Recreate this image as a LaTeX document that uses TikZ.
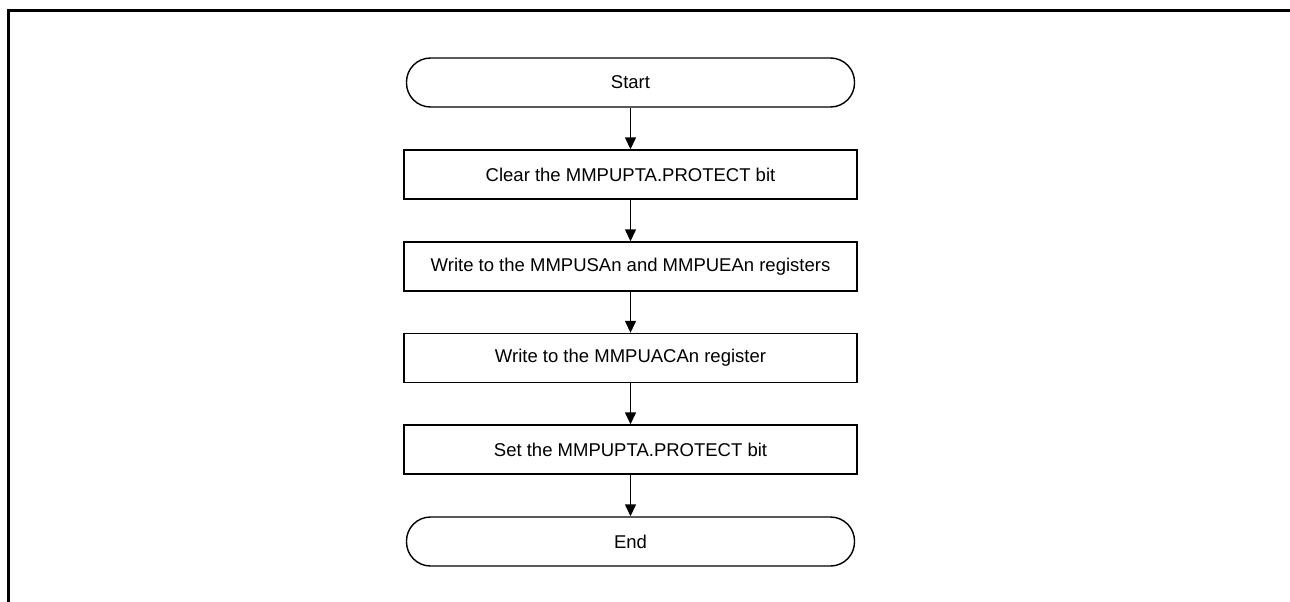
\documentclass[tikz,border=0pt]{standalone}
\usepackage{fontspec}
\setmainfont{Liberation Sans}
\usetikzlibrary{arrows.meta}
\begin{document}
\begin{tikzpicture}[x=1pt,y=-1pt,
  term/.style={draw, line width=1.4pt, rounded corners=24pt, minimum width=448pt, minimum height=49pt, inner sep=0pt, font=\fontsize{18.5}{22}\selectfont},
  stepbox/.style={draw, line width=1.4pt, minimum width=453pt, minimum height=49pt, inner sep=0pt, font=\fontsize{18.5}{22}\selectfont},
  arr/.style={line width=1.4pt, -{Triangle[length=12pt,width=11pt]}}]
\useasboundingbox (0,0) rectangle (1290,602);
\draw[line width=3pt] (8.5,602) -- (8.5,10.5) -- (1290,10.5);
\node[term] (start) at (630.5,82.5) {Start};
\node[stepbox] (s1) at (630.5,174.5) {Clear the MMPUPTA.PROTECT bit};
\node[stepbox] (s2) at (630.5,266.5) {Write to the MMPUSAn and MMPUEAn registers};
\node[stepbox] (s3) at (630.5,358) {Write to the MMPUACAn register};
\node[stepbox] (s4) at (630.5,449.5) {Set the MMPUPTA.PROTECT bit};
\node[term] (end) at (630.5,541.5) {End};
\draw[arr] (start.south) -- (s1.north);
\draw[arr] (s1.south) -- (s2.north);
\draw[arr] (s2.south) -- (s3.north);
\draw[arr] (s3.south) -- (s4.north);
\draw[arr] (s4.south) -- (end.north);
\end{tikzpicture}
\end{document}
